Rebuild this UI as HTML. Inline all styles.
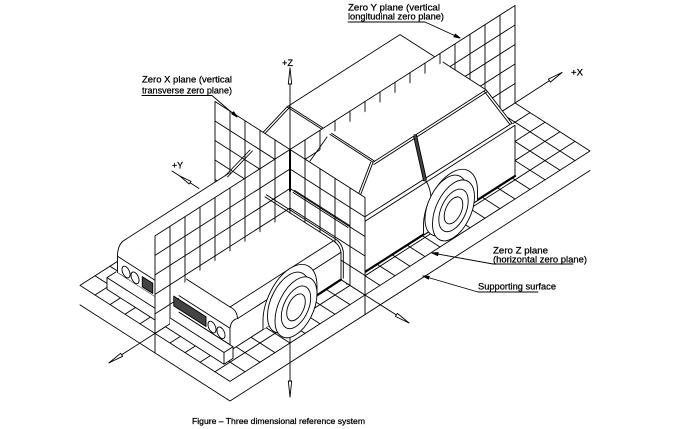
<!DOCTYPE html>
<html><head><meta charset="utf-8"><title>Three dimensional reference system</title>
<style>
html,body{margin:0;padding:0;background:#fff;width:673px;height:429px;overflow:hidden}
svg{display:block}
.t *{vector-effect:non-scaling-stroke}
text{font-family:"Liberation Sans",Arial,sans-serif;fill:#000;stroke:#000;stroke-width:0.25}
.w{fill:#fff;stroke:none}
.th{stroke-width:2.2}
</style></head><body>
<svg width="673" height="429" viewBox="0 0 673 429" xmlns="http://www.w3.org/2000/svg" stroke="#000" stroke-width="0.9" fill="none" stroke-linejoin="round" stroke-linecap="round">

<!-- supporting surface -->
<polyline points="80,304.9 230,401 590,170.5"/>

<!-- Zero Z plane -->
<g class="t" transform="matrix(15,-9.6,15,9.6,290,247)">
<polygon points="-9,-5 15,-5 15,5 -9,5" fill="#fff"/>
<path d="M-8,-5V5M-7,-5V5M-6,-5V5M-5,-5V5M-4,-5V5M-3,-5V5M-2,-5V5M-1,-5V5M0,-5V5M1,-5V5M2,-5V5M3,-5V5M4,-5V5M5,-5V5M6,-5V5M7,-5V5M8,-5V5M9,-5V5M10,-5V5M11,-5V5M12,-5V5M13,-5V5M14,-5V5M-9,-4H15M-9,-3H15M-9,-2H15M-9,-1H15M-9,0H15M-9,1H15M-9,2H15M-9,3H15M-9,4H15"/>
</g>

<!-- car rear far quadrant -->
<polygon class="w" points="287,106.9 400,34.6 443,62.1 330,134.4"/>
<polygon class="w" points="287,106.9 330,134.4 293,192.4 239,157.9"/>
<path d="M287,106.9L400,34.6L443,62.1M287,106.9L330,134.4M288.6,105.9L331.6,133.4M287,106.9L239,157.9M289.4,107.6L241.4,158.6"/>

<!-- Y plane rear half -->
<g class="t" transform="matrix(15,-9.6,0,-19.5,290,247)">
<polygon points="0,0 15,0 15,5 0,5" fill="#fff"/>
<path d="M1,0V5M2,0V5M3,0V5M4,0V5M5,0V5M6,0V5M7,0V5M8,0V5M9,0V5M10,0V5M11,0V5M12,0V5M13,0V5M14,0V5M0,1H15M0,2H15M0,3H15M0,4H15"/>
</g>

<!-- car rear near quadrant -->
<polygon class="w" points="330,134.4 443,62.1 486,89.7 373.1,162.2"/>
<polygon class="w" points="330,134.4 373.1,162.2 348,227.5 293,192.4"/>
<polygon class="w" points="373.1,162.2 486,89.7 512,123.3 515,125.3 515,176 347,283.5 347,232.8 348,227.5"/>
<path d="M443,62.1L486,89.7M330,134.4L373.1,162.2M331.6,133.4L374.7,161.2M373.1,162.2L486,89.7M373.9,164.5L486.8,92M373.1,162.2L348,227.5M370.7,162.3L345.6,227.6M486,89.7L512,123.3M484,91L510,124.5M348,227.5L512,123.3M347,232.8L515,125.3M515,125.3L515,176M327,137Q318,150 310,161"/>
<path class="th" d="M347,283.5L515,176"/>
<path d="M415,135.5L425,180" stroke-width="3" stroke="#444"/>
<path d="M413.6,136.3L423.6,180.8M416.4,134.7L426.4,179.2M425.5,180Q431,189 431,199L431,229.9"/>
<!-- rear wheel -->
<g class="t" transform="matrix(15,-9.6,0,-19.5,347,283.48)"><path d="M5.1,0V0.45A1.8,1.8 0 0 0 8.7,0.45V0" fill="#fff"/></g>
<g class="t" transform="matrix(15,-9.6,0,-19.5,342.5,280.6)"><circle cx="6.9" cy="0.45" r="1.4" fill="#fff"/></g>
<g class="t" transform="matrix(15,-9.6,0,-19.5,350,285.4)"><circle cx="6.9" cy="0.45" r="1.4" fill="#fff"/><circle cx="6.9" cy="0.45" r="0.98"/><circle cx="6.9" cy="0.45" r="0.62"/></g>

<!-- X plane far half -->
<g class="t" transform="matrix(15,9.6,0,-19.5,290,247)">
<polygon points="-5,0 0,0 0,5 -5,5" fill="#fff"/>
<path d="M-4,0V5M-3,0V5M-2,0V5M-1,0V5M-5,1H0M-5,2H0M-5,3H0M-5,4H0"/>
</g>

<!-- car front far quadrant -->
<polygon class="w" points="125,239.8 228.5,173.5 290,212.9 186.5,279.1"/>
<polygon class="w" points="125,239.8 186.5,279.1 179,295.6 117.5,256.3"/>
<polygon class="w" points="117.5,256.3 179,295.6 179,312.2 117.5,272.8"/>
<path d="M117.5,272.8L117.5,256.3Q117.5,244 125,239.8L228.5,173.5M117.5,256.3L179,295.6M117.5,272.8L179,312.2"/>
<g class="t" transform="matrix(15,9.6,0,-19.5,179,318.04)">
<circle cx="-3.53" cy="0.62" r="0.27"/><circle cx="-2.93" cy="0.62" r="0.27"/>
<polygon points="-2.45,0.4 -1.75,0.4 -1.75,0.92 -2.45,0.92" fill="#444"/>
</g>
<polygon class="w" points="107,277.6 116,271.9 179,312.2 170,317.9 170,329.6 107,289.3"/>
<path d="M116,271.9L107,277.6L107,289.3L170,329.6M107,277.6L170,317.9"/>

<!-- Y plane front half -->
<g class="t" transform="matrix(15,-9.6,0,-19.5,290,247)">
<polygon points="-9,0 0,0 0,5 -9,5" fill="#fff"/>
<path d="M-8,0V5M-7,0V5M-6,0V5M-5,0V5M-4,0V5M-3,0V5M-2,0V5M-1,0V5M-9,1H0M-9,2H0M-9,3H0M-9,4H0"/>
</g>

<!-- X plane near half -->
<g class="t" transform="matrix(15,9.6,0,-19.5,290,247)">
<polygon points="0,0 5,0 5,5 0,5" fill="#fff"/>
<path d="M1,0V5M2,0V5M3,0V5M4,0V5M0,1H5M0,2H5M0,3H5M0,4H5"/>
</g>

<!-- car front near quadrant -->
<polygon class="w" points="179,295.6 186.5,279.1 290,212.9 333.5,240.7 341,252.3 341,279.6 230,350.7 230,344.8 179,312.2"/>
<path d="M186.5,279.1L230,307M230,307L333.5,240.7M230,307Q237,310 237.5,318.6M237.5,318.6L341,252.3M179,295.6L230,328.2M230,328.2Q231,320 237.5,318.6M230,328.2L230,350.7M230,350.7L341,279.6M179,312.2L230,344.8"/>
<path class="th" d="M316,295.9L341,279.6"/>
<g class="t" transform="matrix(15,9.6,0,-19.5,179,318.04)">
<circle cx="2.2" cy="0.62" r="0.27" fill="#fff"/><circle cx="2.8" cy="0.62" r="0.27" fill="#fff"/>
<polygon points="-0.35,0.45 1.8,0.45 1.8,0.95 -0.35,0.95" fill="#444"/>
</g>
<polygon class="w" points="170,317.9 179,312.2 233,346.7 233,358.4 224,364.2 170,329.6"/>
<path d="M170,317.9L224,352.5L233,346.7L233,358.4L224,364.2L170,329.6M224,352.5L224,364.2M179,312.2L233,346.7"/>
<!-- front wheel -->
<g class="t" transform="matrix(15,-9.6,0,-19.5,341,279.64)"><path d="M-5.2,0V0.45A1.8,1.8 0 0 0 -1.6,0.45V0" fill="#fff"/></g>
<g class="t" transform="matrix(15,-9.6,0,-19.5,339.5,278.68)"><circle cx="-3.4" cy="0.45" r="1.4" fill="#fff"/></g>
<g class="t" transform="matrix(15,-9.6,0,-19.5,347,283.48)"><circle cx="-3.4" cy="0.45" r="1.4" fill="#fff"/><circle cx="-3.4" cy="0.45" r="0.98"/><circle cx="-3.4" cy="0.45" r="0.62"/></g>

<!-- section lines on zero X plane -->
<path d="M265,196.9L290,212.9L333.5,240.7Q339.5,244.5 341,252.3L341,279.6M266.3,194.8L291.3,210.8L334.8,238.6Q341.8,242.5 343.3,251.5L343.3,278.2"/>
<path d="M293,192.4L348,227.5M294.6,190.4L349.6,225.5"/>
<path d="M225,176L250,150M227.6,176.8L252.4,151"/>

<!-- axes -->
<path d="M290,68L290,150"/>
<path d="M290,150L290,191" stroke-width="2"/>
<path d="M290,338L290,397"/>
<path d="M515,103L562,72.5"/>
<path d="M155,333.4L109,362.9M155,333.4L155,353"/>
<path d="M365,295L409,323M365,295L365,314.5"/>
<path d="M172,171L199,188.5"/>
<g fill="#fff">
<polygon points="290,68 288.3,84 291.7,84"/>
<polygon points="290,397 288.3,381 291.7,381"/>
<polygon points="562,72.5 550.4,82.1 548.4,79.1"/>
<polygon points="109,362.9 122.6,356.3 120.6,353.3"/>
<polygon points="409,323 395.4,316.4 397.4,313.4"/>
<polygon points="180,176.2 189.2,184 191,181.4"/>
</g>

<!-- leaders -->
<path d="M142,95.5H212L237,117"/>
<polygon points="237,117 231.7,113.9 233.7,111.7" fill="#000"/>
<path d="M348,22H425L460,38"/>
<polygon points="460,38 453.9,36.8 455.3,34.1" fill="#000"/>
<path d="M573,264H493L432,253"/>
<polygon points="432,253 438.2,252.6 437.6,255.6" fill="#000"/>
<path d="M538,292H478L423,276"/>
<polygon points="423,276 429.2,276.3 428.4,279.1" fill="#000"/>

<!-- labels -->
<text x="348" y="10.7" font-size="8.8" textLength="92" lengthAdjust="spacingAndGlyphs">Zero Y plane (vertical</text>
<text x="348" y="19.5" font-size="8.8" textLength="96" lengthAdjust="spacingAndGlyphs">longitudinal zero plane)</text>
<text x="142" y="82.3" font-size="8.8" textLength="90" lengthAdjust="spacingAndGlyphs">Zero X plane (vertical</text>
<text x="142" y="93.3" font-size="8.8" textLength="90" lengthAdjust="spacingAndGlyphs">transverse zero plane)</text>
<text x="282" y="66" font-size="9" textLength="11" lengthAdjust="spacingAndGlyphs">+Z</text>
<text x="172" y="168.5" font-size="9" textLength="11" lengthAdjust="spacingAndGlyphs">+Y</text>
<text x="571" y="75.5" font-size="9" textLength="12" lengthAdjust="spacingAndGlyphs">+X</text>
<text x="493" y="253.3" font-size="8.8" textLength="55" lengthAdjust="spacingAndGlyphs">Zero Z plane</text>
<text x="493" y="262.3" font-size="8.8" textLength="94" lengthAdjust="spacingAndGlyphs">(horizontal zero plane)</text>
<text x="478" y="289.5" font-size="8.8" textLength="78" lengthAdjust="spacingAndGlyphs">Supporting surface</text>
<text x="192" y="424" font-size="8" textLength="173" lengthAdjust="spacingAndGlyphs">Figure – Three dimensional reference system</text>
</svg>
</body></html>
